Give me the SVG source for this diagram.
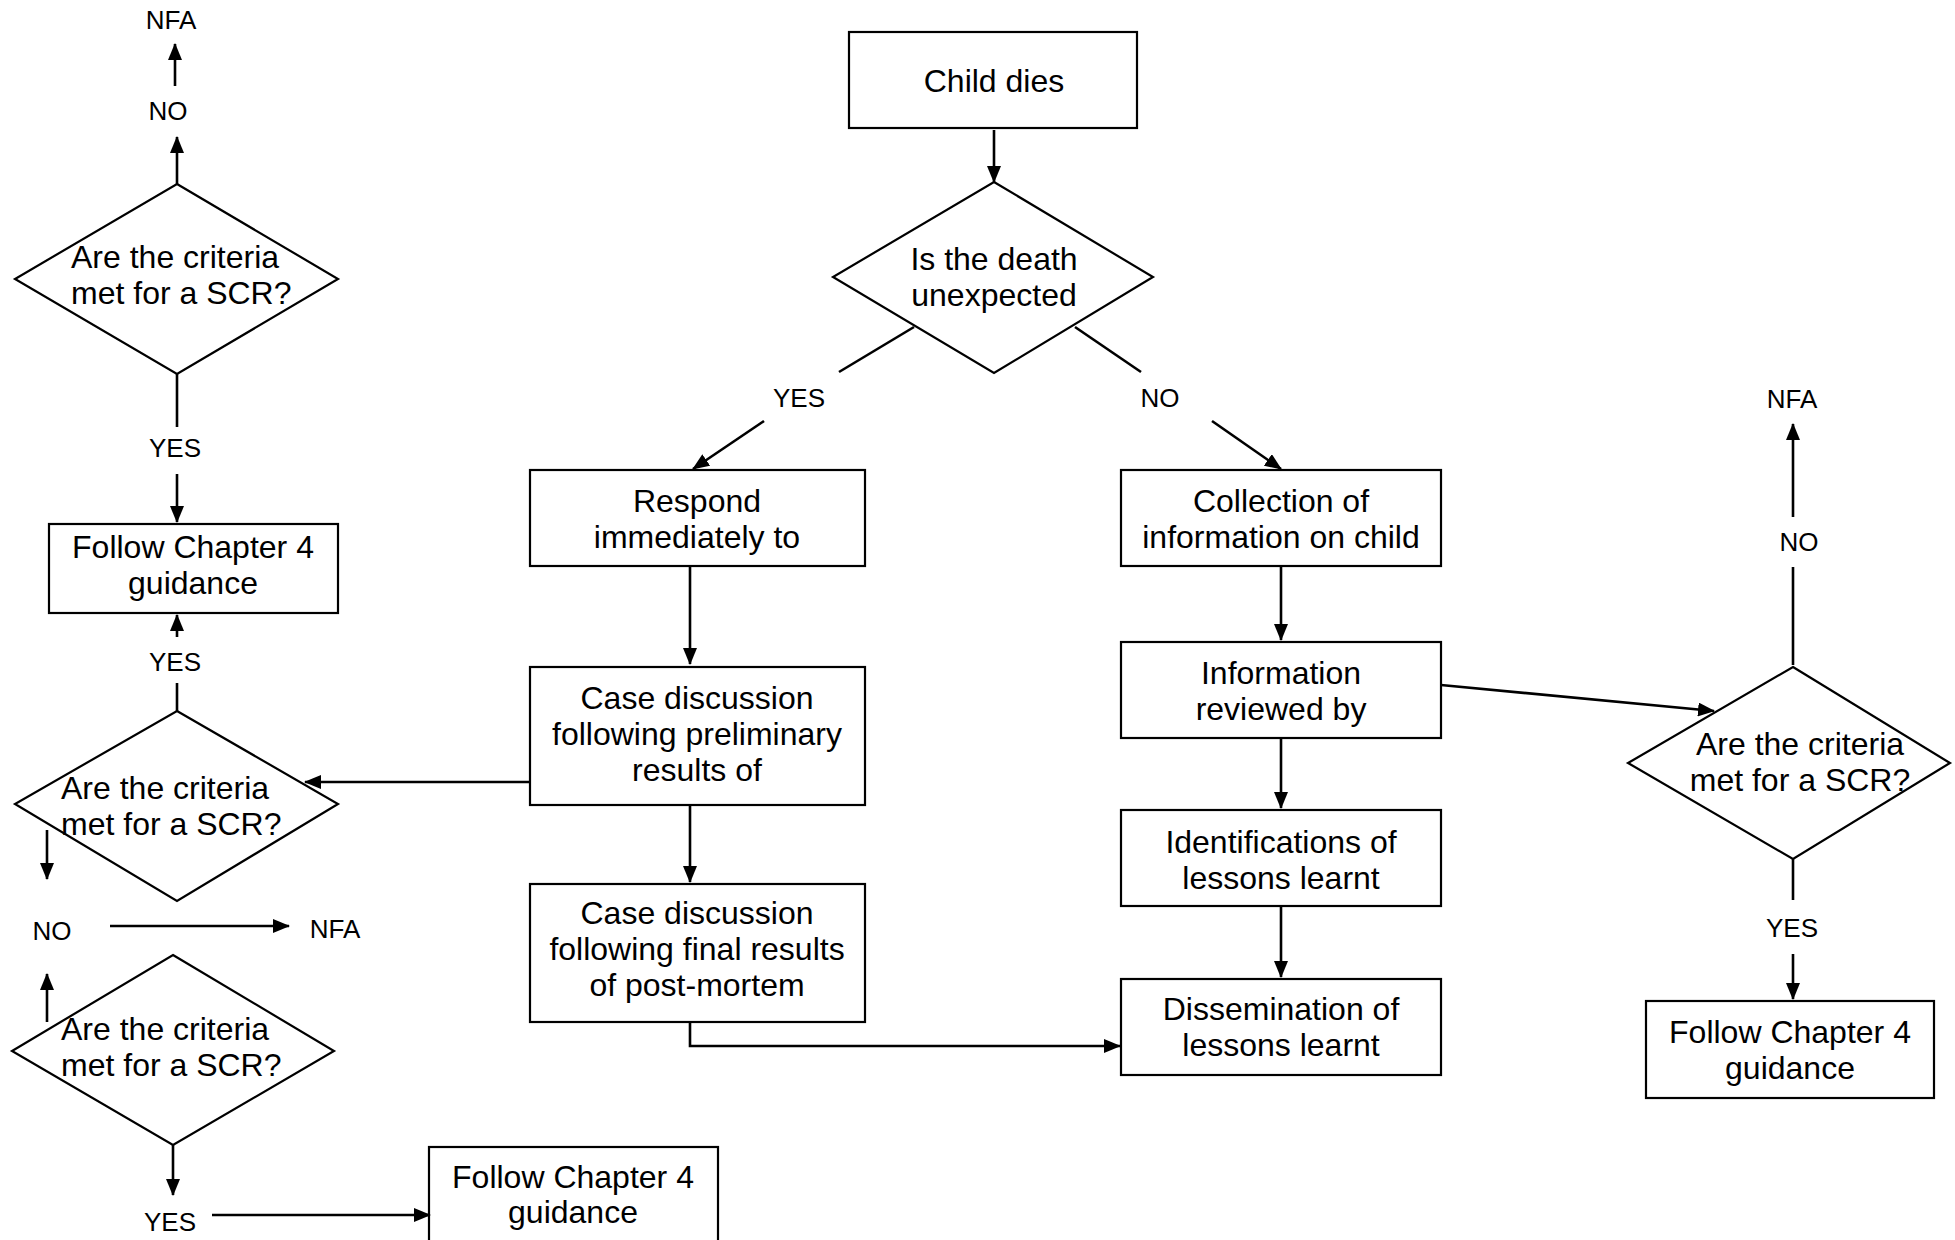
<svg xmlns="http://www.w3.org/2000/svg" width="1955" height="1240" viewBox="0 0 1955 1240">
<style>
.box{fill:#fff;stroke:#000;stroke-width:2.2}
.t{font-family:"Liberation Sans",Arial,sans-serif;font-size:32px;fill:#000;text-anchor:middle}
.ts{font-family:"Liberation Sans",Arial,sans-serif;font-size:32px;fill:#000;text-anchor:start}
.lbl{font-family:"Liberation Sans",Arial,sans-serif;font-size:26px;fill:#000;text-anchor:middle}
.c{stroke:#000;stroke-width:2.6;fill:none}
.a{stroke:#000;stroke-width:2.6;fill:none;marker-end:url(#ah)}
</style>
<defs>
<marker id="ah" markerUnits="userSpaceOnUse" markerWidth="17" markerHeight="14" refX="16" refY="7" orient="auto">
<path d="M0,0 L17,7 L0,14 z" fill="#000"/>
</marker>
</defs>
<rect width="1955" height="1240" fill="#fff"/>
<g id="nodes">
<g id="n_child"><rect class="box" x="849" y="32" width="288" height="96"/><text class="t" x="994" y="92">Child dies</text></g>
<g id="n_unexpected"><polygon class="box" points="994,182 1153,277 994,373 833,277"/><text class="t" x="994" y="270">Is the death</text><text class="t" x="994" y="306">unexpected</text></g>
<g id="n_respond"><rect class="box" x="530" y="470" width="335" height="96"/><text class="t" x="697" y="512">Respond</text><text class="t" x="697" y="548">immediately to</text></g>
<g id="n_prelim"><rect class="box" x="530" y="667" width="335" height="138"/><text class="t" x="697" y="709">Case discussion</text><text class="t" x="697" y="745">following preliminary</text><text class="t" x="697" y="781">results of</text></g>
<g id="n_final"><rect class="box" x="530" y="884" width="335" height="138"/><text class="t" x="697" y="924">Case discussion</text><text class="t" x="697" y="960">following final results</text><text class="t" x="697" y="996">of post-mortem</text></g>
<g id="n_collect"><rect class="box" x="1121" y="470" width="320" height="96"/><text class="t" x="1281" y="512">Collection of</text><text class="t" x="1281" y="548">information on child</text></g>
<g id="n_info"><rect class="box" x="1121" y="642" width="320" height="96"/><text class="t" x="1281" y="684">Information</text><text class="t" x="1281" y="720">reviewed by</text></g>
<g id="n_ident"><rect class="box" x="1121" y="810" width="320" height="96"/><text class="t" x="1281" y="853">Identifications of</text><text class="t" x="1281" y="889">lessons learnt</text></g>
<g id="n_dissem"><rect class="box" x="1121" y="979" width="320" height="96"/><text class="t" x="1281" y="1020">Dissemination of</text><text class="t" x="1281" y="1056">lessons learnt</text></g>
<g id="n_rdiamond"><polygon class="box" points="1793,667 1950,763 1793,859 1628,763"/><text class="t" x="1800" y="755">Are the criteria</text><text class="t" x="1800" y="791">met for a SCR?</text></g>
<g id="n_rfollow"><rect class="box" x="1646" y="1001" width="288" height="97"/><text class="t" x="1790" y="1043">Follow Chapter 4</text><text class="t" x="1790" y="1079">guidance</text></g>
<g id="n_ltdiamond"><polygon class="box" points="177,184 338,279 177,374 15,279"/><text class="ts" x="71" y="268">Are the criteria</text><text class="ts" x="71" y="304">met for a SCR?</text></g>
<g id="n_lfollow"><rect class="box" x="49" y="524" width="289" height="89"/><text class="t" x="193" y="558">Follow Chapter 4</text><text class="t" x="193" y="594">guidance</text></g>
<g id="n_lmdiamond"><polygon class="box" points="177,711 338,804 177,901 15,804"/><text class="ts" x="61" y="799">Are the criteria</text><text class="ts" x="61" y="835">met for a SCR?</text></g>
<g id="n_lbdiamond"><polygon class="box" points="173,955 334,1051 173,1145 12,1051"/><text class="ts" x="61" y="1040">Are the criteria</text><text class="ts" x="61" y="1076">met for a SCR?</text></g>
<g id="n_bfollow"><rect class="box" x="429" y="1147" width="289" height="110"/><text class="t" x="573" y="1188">Follow Chapter 4</text><text class="t" x="573" y="1223">guidance</text></g>
</g>
<g id="labels">
<text class="lbl" x="171" y="29">NFA</text>
<text class="lbl" x="168" y="120">NO</text>
<text class="lbl" x="175" y="457">YES</text>
<text class="lbl" x="175" y="671">YES</text>
<text class="lbl" x="52" y="940">NO</text>
<text class="lbl" x="335" y="938">NFA</text>
<text class="lbl" x="170" y="1231">YES</text>
<text class="lbl" x="799" y="407">YES</text>
<text class="lbl" x="1160" y="407">NO</text>
<text class="lbl" x="1792" y="408">NFA</text>
<text class="lbl" x="1799" y="551">NO</text>
<text class="lbl" x="1792" y="937">YES</text>
</g>
<g id="connectors">
<line class="a" x1="994" y1="130" x2="994" y2="182"/>
<line class="c" x1="914" y1="327" x2="839" y2="372"/>
<line class="a" x1="764" y1="421" x2="693" y2="469"/>
<line class="c" x1="1075" y1="327" x2="1141" y2="372"/>
<line class="a" x1="1212" y1="421" x2="1281" y2="469"/>
<line class="a" x1="690" y1="566" x2="690" y2="664"/>
<line class="a" x1="690" y1="805" x2="690" y2="882"/>
<path class="a" d="M690,1022 V1046 H1120"/>
<line class="a" x1="1281" y1="566" x2="1281" y2="640"/>
<line class="a" x1="1281" y1="738" x2="1281" y2="808"/>
<line class="a" x1="1281" y1="906" x2="1281" y2="977"/>
<line class="a" x1="1441" y1="685" x2="1714" y2="711"/>
<line class="c" x1="1793" y1="665" x2="1793" y2="567"/>
<line class="a" x1="1793" y1="517" x2="1793" y2="424"/>
<line class="c" x1="1793" y1="859" x2="1793" y2="900"/>
<line class="a" x1="1793" y1="954" x2="1793" y2="999"/>
<line class="a" x1="177" y1="184" x2="177" y2="137"/>
<line class="a" x1="175" y1="86" x2="175" y2="44"/>
<line class="c" x1="177" y1="374" x2="177" y2="427"/>
<line class="a" x1="177" y1="474" x2="177" y2="522"/>
<line class="a" x1="177" y1="637" x2="177" y2="615"/>
<line class="c" x1="177" y1="683" x2="177" y2="711"/>
<line class="a" x1="530" y1="782" x2="305" y2="782"/>
<line class="a" x1="47" y1="830" x2="47" y2="879"/>
<line class="a" x1="110" y1="926" x2="289" y2="926"/>
<line class="a" x1="47" y1="1022" x2="47" y2="974"/>
<line class="a" x1="173" y1="1145" x2="173" y2="1195"/>
<line class="a" x1="212" y1="1215" x2="430" y2="1215"/>
</g>
</svg>
